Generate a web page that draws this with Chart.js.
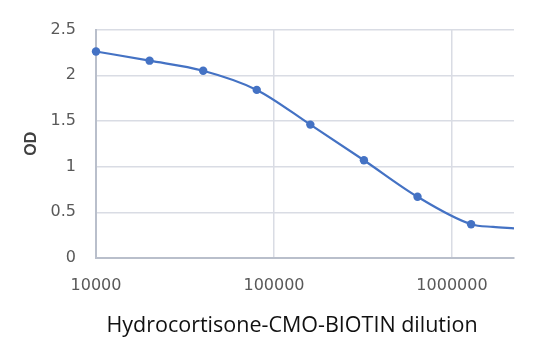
<!DOCTYPE html>
<html><head><meta charset="utf-8">
<script src="https://cdn.jsdelivr.net/npm/chart.js@4"></script>
<style>html,body{margin:0;padding:0;background:#fff}#wrap{width:542px;height:356px;position:relative}</style>
</head><body><div id="wrap"><canvas id="c"></canvas></div>
<script>
// Data
const dilution = [10000, 20000, 40000, 80000, 160000, 320000, 640000, 1280000];
const od = [2.26, 2.16, 2.05, 1.84, 1.46, 1.07, 0.67, 0.37];
// continuation of the fitted curve beyond the last point
const tailX = [1700000, 2230000];
const tailY = [0.34, 0.325];
const xTicks = [10000, 100000, 1000000];
const xTickLabels = ['10000', '100000', '1000000'];
const yTicks = [0, 0.5, 1, 1.5, 2, 2.5];
const yTickLabels = ['0', '0.5', '1', '1.5', '2', '2.5'];
const xAxisTitle = 'Hydrocortisone-CMO-BIOTIN dilution';
const yAxisTitle = 'OD';
const xMin = 10000, xMax = 2230000;
const yMin = 0, yMax = 2.5;

const allX = dilution.concat(tailX);
const allY = od.concat(tailY);
const points = allX.map((x, i) => ({x: x, y: allY[i]}));

const blue = '#4472C4';
const tickColor = '#595959';
const gridColor = '#d9dce4';
const axisColor = '#b9bfcb';

// x-axis title drawn below the axis, centred where the reference places it
const xTitlePlugin = {
  id: 'xTitle',
  afterDraw(chart) {
    const ctx = chart.ctx;
    ctx.save();
    ctx.font = '21.5px "Open Sans"';
    ctx.fillStyle = '#111';
    ctx.textAlign = 'center';
    ctx.textBaseline = 'middle';
    ctx.fillText(xAxisTitle, 292, 326);
    ctx.restore();
  }
};

new Chart(document.getElementById('c'), {
  type: 'scatter',
  data: {
    datasets: [{
      label: 'OD',
      data: points,
      showLine: true,
      cubicInterpolationMode: 'monotone',
      borderColor: blue,
      backgroundColor: blue,
      borderWidth: 2.2,
      pointRadius: ctx => ctx.dataIndex < od.length ? 4.2 : 0,
      pointHoverRadius: 0,
      pointBorderWidth: 0,
      clip: false
    }]
  },
  plugins: [xTitlePlugin],
  options: {
    responsive: true,
    maintainAspectRatio: false,
    devicePixelRatio: 1,
    animation: false,
    events: [],
    layout: {padding: {left: 0, right: 28, top: 28, bottom: 0}},
    plugins: {legend: {display: false}, tooltip: {enabled: false}},
    scales: {
      x: {
        type: 'logarithmic',
        min: xMin, max: xMax,
        afterBuildTicks: s => { s.ticks = xTicks.map(v => ({value: v})); },
        afterFit: s => { s.height = 98; },
        ticks: {
          autoSkip: false, maxRotation: 0, padding: 18,
          color: tickColor,
          font: {family: 'DejaVu Sans', size: 16},
          callback: (v) => { const i = xTicks.indexOf(v); return i >= 0 ? xTickLabels[i] : ''; }
        },
        grid: {color: gridColor, lineWidth: 1.5, drawTicks: false},
        border: {color: axisColor, width: 2},
        title: {display: false}
      },
      y: {
        min: yMin, max: yMax,
        afterBuildTicks: s => { s.ticks = yTicks.map(v => ({value: v})); },
        afterFit: s => { s.width = 96; },
        ticks: {
          padding: 20, color: tickColor,
          font: {family: 'DejaVu Sans', size: 16},
          callback: (v) => { const i = yTicks.indexOf(v); return i >= 0 ? yTickLabels[i] : ''; }
        },
        grid: {color: gridColor, lineWidth: 1.5, drawTicks: false},
        border: {color: axisColor, width: 2},
        title: {
          display: true, text: yAxisTitle, color: '#404040',
          font: {family: 'Liberation Sans', size: 16, weight: 'bold'},
          padding: {top: 22, bottom: 22}
        }
      }
    }
  }
});
</script>
</body></html>
